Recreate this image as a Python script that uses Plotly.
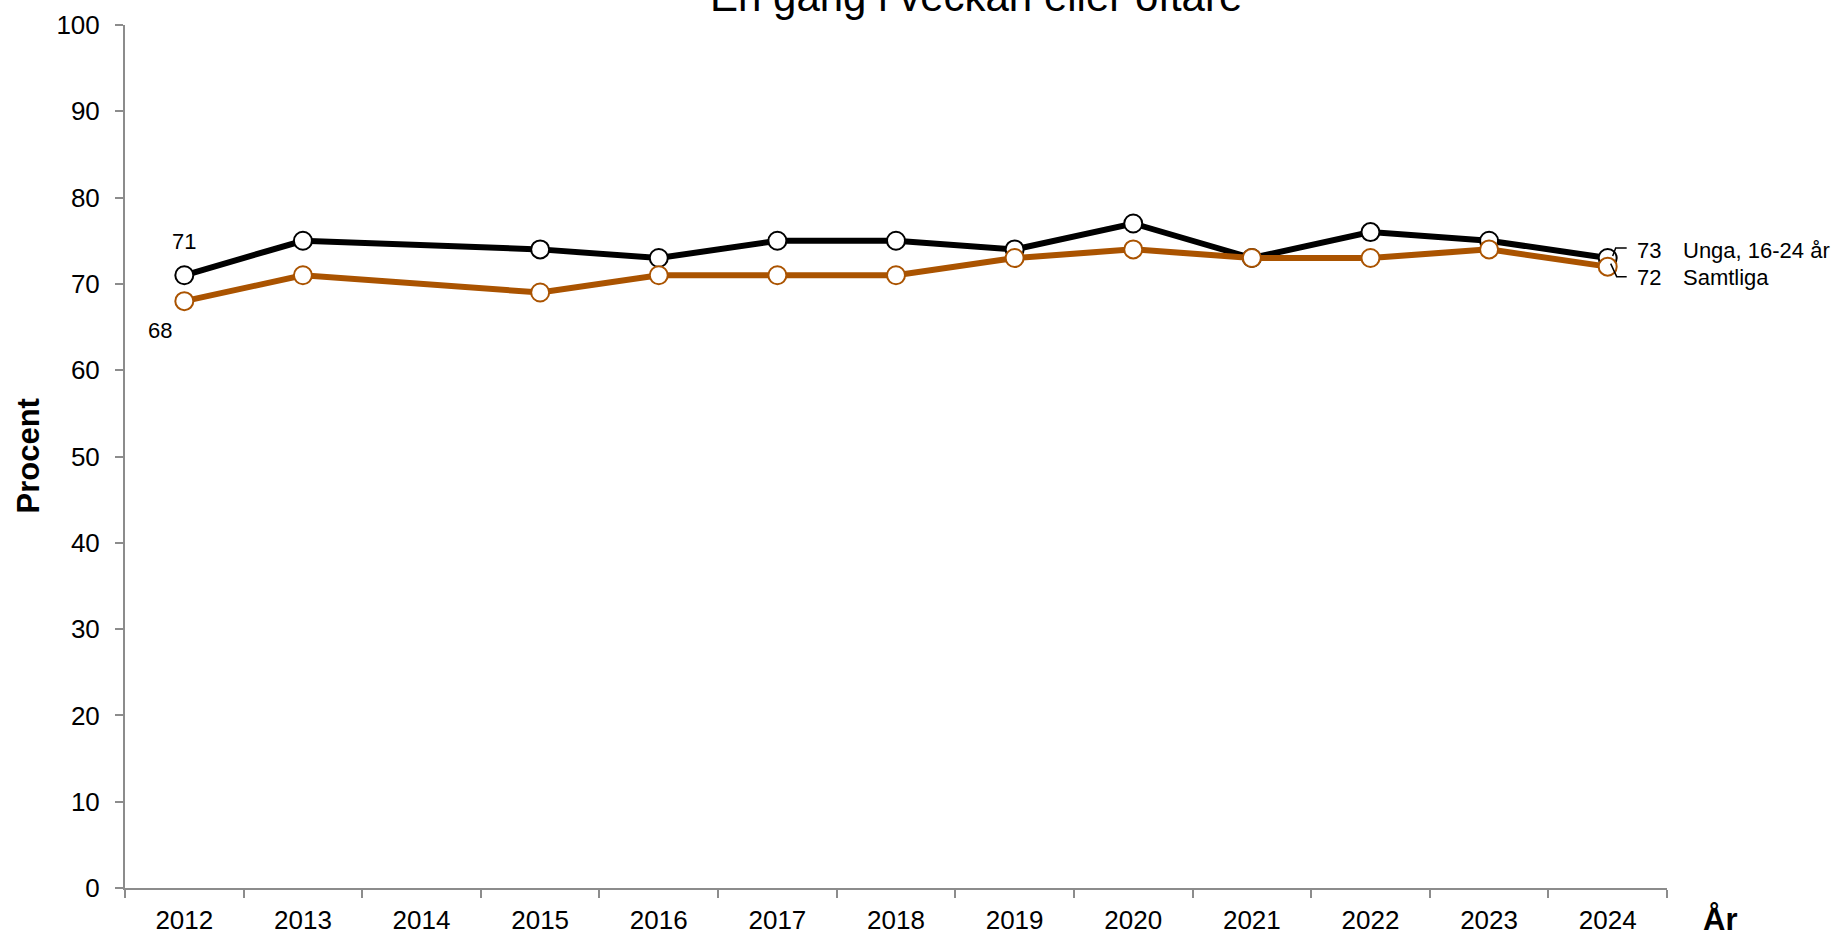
import plotly.graph_objects as go

# year categories (2014 has no survey data)
years = ["2012", "2013", "2014", "2015", "2016", "2017", "2018",
         "2019", "2020", "2021", "2022", "2023", "2024"]
unga = [71, 75, None, 74, 73, 75, 75, 74, 77, 73, 76, 75, 73]
samtliga = [68, 71, None, 69, 71, 71, 71, 73, 74, 73, 73, 74, 72]
names = ["Unga, 16-24 år", "Samtliga"]
colors = ["#000000", "#AA5300"]

FONT = "Liberation Sans, Arial, sans-serif"

fig = go.Figure()
for vals, name, col in zip([unga, samtliga], names, colors):
    fig.add_trace(go.Scatter(
        x=years, y=vals, name=name, mode="lines+markers", connectgaps=True,
        line=dict(color=col, width=6),
        marker=dict(size=18, color="white", line=dict(color=col, width=2)),
        hoverinfo="x+y+name",
    ))

# annotations on a category axis take the category index
first, last = 0, len(years) - 1

# first-year value labels
fig.add_annotation(x=first, y=unga[0], text=str(unga[0]), showarrow=False,
                   yshift=34, font=dict(size=22))
fig.add_annotation(x=first, y=samtliga[0], text=str(samtliga[0]), showarrow=False,
                   xshift=-24, yshift=-29, font=dict(size=22))

# end labels with small leader lines
end_specs = [(unga[-1], names[0], 8, "M 5 2 L 8 10 L 19 10"),
             (samtliga[-1], names[1], -11, "M 3 3 L 9 -10 L 19 -10")]
for val, name, dy, path in end_specs:
    fig.add_shape(type="path", xref="x", yref="y", xsizemode="pixel", ysizemode="pixel",
                  xanchor=last, yanchor=val, path=path,
                  line=dict(color="black", width=1.5))
    fig.add_annotation(x=last, y=val, text=str(val), showarrow=False, xanchor="left",
                       xshift=27, yshift=dy, font=dict(size=22))
    fig.add_annotation(x=last, y=val, text=name, showarrow=False, xanchor="left",
                       xshift=73, yshift=dy, font=dict(size=22))

fig.add_annotation(xref="paper", yref="paper", x=0.552, y=1, yanchor="bottom", yshift=3,
                   text="En gång i veckan eller oftare", showarrow=False, font=dict(size=42))
fig.add_annotation(xref="paper", yref="paper", x=0, y=0.5, xanchor="center", yanchor="middle",
                   xshift=-97, textangle=-90,
                   text="<b>Procent</b>", showarrow=False, font=dict(size=31))
fig.add_annotation(xref="paper", yref="paper", x=1, y=0, xanchor="center", yanchor="middle",
                   xshift=53, yshift=-31,
                   text="<b>År</b>", showarrow=False, font=dict(size=31))

fig.update_xaxes(type="category", categoryorder="array", categoryarray=years,
                 range=[-0.5, len(years) - 0.5], showgrid=False, zeroline=False,
                 showline=True, linecolor="#8c8c8c", linewidth=2, automargin=False,
                 ticks="outside", tickson="boundaries", ticklen=8, tickwidth=2,
                 tickcolor="#8c8c8c", tickfont=dict(size=26), ticklabelstandoff=8)
fig.update_yaxes(range=[0, 100], dtick=10, showgrid=False, zeroline=False,
                 showline=True, linecolor="#8c8c8c", linewidth=2, automargin=False,
                 ticks="outside", ticklen=8, tickwidth=2, tickcolor="#8c8c8c",
                 tickfont=dict(size=26), ticklabelstandoff=10)

fig.update_layout(width=1847, height=931, showlegend=False,
                  paper_bgcolor="white", plot_bgcolor="white",
                  font=dict(family=FONT, color="black"),
                  margin=dict(l=125, r=180, t=25, b=43))

# drop the default page margin so the figure sits at the window's corner
fig.write_html("out.html", config={"displayModeBar": False},
               post_script="document.body.style.margin='0';")
